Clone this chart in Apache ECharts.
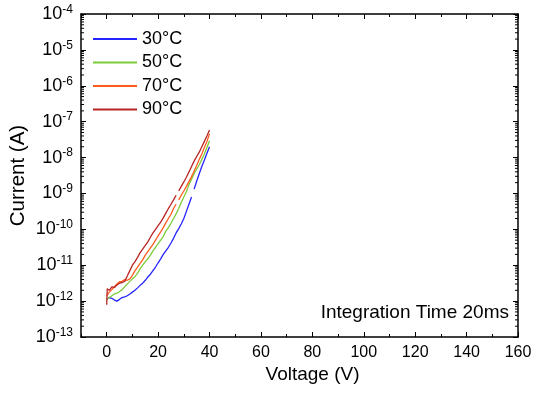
<!DOCTYPE html>
<html><head><meta charset="utf-8">
<script src="https://cdn.jsdelivr.net/npm/echarts@6/dist/echarts.min.js"></script>
<style>html,body{margin:0;padding:0;background:#fff}#c{width:539px;height:394px}</style>
</head><body><div id="c"></div>
<script>
var voltage30 = [0,1,2,3,4,5,6,7,8,9,10,11,12,13,14,15,16,17,18,19,20,21,22,23,24,25,26,27,28,29,30,31,32,33,33.5,34,35,36,37,38,39,40];
var current30 = [1.12e-12,1.26e-12,1.2e-12,1.07e-12,1.0e-12,1.12e-12,1.26e-12,1.32e-12,1.41e-12,1.58e-12,1.78e-12,2.0e-12,2.34e-12,2.75e-12,3.16e-12,3.8e-12,4.68e-12,5.62e-12,7.08e-12,8.91e-12,1.17e-11,1.51e-11,2.0e-11,2.51e-11,3.16e-11,4.17e-11,5.62e-11,7.94e-11,1.05e-10,1.41e-10,2.0e-10,3.16e-10,5.0e-10,7.94e-10,'-',1.32e-9,2.19e-9,3.55e-9,5.62e-9,8.5e-9,1.32e-8,2.0e-8];
var voltage50 = [0,1,2,3,4,5,6,7,8,9,10,11,12,13,14,15,16,17,18,19,20,21,22,23,24,25,26,27,28,29,30,31,32,33,34,35,36,37,38,39,40];
var current50 = [1.12e-12,1.26e-12,1.41e-12,1.58e-12,1.66e-12,1.86e-12,2.09e-12,2.51e-12,3.02e-12,3.55e-12,4.17e-12,4.79e-12,6.03e-12,7.94e-12,1.0e-11,1.26e-11,1.51e-11,1.91e-11,2.51e-11,3.16e-11,3.98e-11,5.01e-11,6.31e-11,8.91e-11,1.12e-10,1.48e-10,2.0e-10,2.69e-10,3.8e-10,5.62e-10,7.94e-10,1.12e-9,1.78e-9,2.51e-9,3.55e-9,4.79e-9,6.31e-9,8.91e-9,1.26e-8,1.91e-8,2.95e-8];
var voltage70 = [0,1,2,3,4,5,6,7,8,9,10,11,12,13,14,15,16,17,18,19,20,21,22,23,24,25,26,27,27.5,28,29,30,31,32,33,34,35,36,37,38,39,40];
var current70 = [1.41e-12,1.78e-12,2.09e-12,2.51e-12,3.02e-12,3.47e-12,3.55e-12,3.98e-12,3.8e-12,4.17e-12,5.25e-12,7.08e-12,8.91e-12,1.12e-11,1.41e-11,1.91e-11,2.4e-11,3.02e-11,3.8e-11,5.01e-11,6.61e-11,8.51e-11,1.12e-10,1.51e-10,2.0e-10,2.63e-10,3.8e-10,5.01e-10,'-',6.61e-10,8.91e-10,1.17e-9,1.58e-9,2.14e-9,2.95e-9,4.17e-9,6.03e-9,8.91e-9,1.26e-8,1.91e-8,2.82e-8,4.57e-8];
var voltage90 = [0,0.2,1,2,3,4,5,6,7,8,9,10,11,12,13,14,15,16,17,18,19,20,21,22,23,24,25,26,27,27.5,28,29,30,31,32,33,34,35,36,37,38,39,40];
var current90 = [7.9e-13,2.2e-12,2.0e-12,2.5e-12,2.4e-12,2.8e-12,3.16e-12,3.3e-12,3.55e-12,5.0e-12,7.08e-12,1.0e-11,1.26e-11,1.66e-11,2.24e-11,2.82e-11,3.55e-11,4.47e-11,6.03e-11,7.94e-11,1.0e-10,1.26e-10,1.58e-10,2.09e-10,2.82e-10,3.8e-10,5.01e-10,6.61e-10,8.91e-10,'-',1.17e-9,1.58e-9,2.09e-9,2.82e-9,3.98e-9,5.62e-9,7.94e-9,1.07e-8,1.41e-8,2.0e-8,2.82e-8,3.98e-8,5.89e-8];
var seriesNames = ['30°C','50°C','70°C','90°C'];
var seriesColors = ['#2424ff','#7ccc3a','#ff5a1e','#b82424'];
var xTickLabels = [0,20,40,60,80,100,120,140,160];
var yExponents = [-13,-12,-11,-10,-9,-8,-7,-6,-5,-4];
var yMinorMantissas = [2,3,4,5,6,7,8,9];

function pairs(xs, ys){ return xs.map(function(x,i){ return [x, ys[i]]; }); }
var yMinorValues = [];
yExponents.slice(0,-1).forEach(function(e){ yMinorMantissas.forEach(function(m){ yMinorValues.push([0, m*Math.pow(10,e)]); }); });

var chart = echarts.init(document.getElementById('c'), null, {renderer:'canvas'});
var font = 'Liberation Sans, Arial, sans-serif';
var black = '#000';
var option = {
  animation:false,
  textStyle:{fontFamily:font},
  grid:{left:81, top:14, right:21, bottom:57, containLabel:false, outerBoundsMode:'none'},
  legend:{
    orient:'vertical', left:93, top:30, padding:0, itemWidth:44, itemHeight:2, itemGap:5.5,
    icon:'rect', textStyle:{fontSize:18, color:black, fontFamily:font},
    data:seriesNames
  },
  xAxis:[
    {type:'value', min:-10, max:160, interval:10,
      name:'Voltage (V)', nameLocation:'middle', nameGap:28, nameMoveOverlap:false,
      nameTextStyle:{fontSize:19, color:black, fontFamily:font, padding:[0,0,0,26]},
      axisLine:{onZero:false, lineStyle:{color:black, width:1.5}},
      axisTick:{inside:true, length:5, customValues:xTickLabels, lineStyle:{color:black, width:1}},
      axisLabel:{fontSize:16, color:black, margin:8, fontFamily:font, customValues:xTickLabels},
      splitLine:{show:false}},
    {type:'value', min:-10, max:160, interval:10, position:'top',
      axisLine:{onZero:false, lineStyle:{color:black, width:1.5}},
      axisTick:{inside:true, length:5, customValues:xTickLabels, lineStyle:{color:black, width:1}},
      axisLabel:{show:false}, splitLine:{show:false}},
    {type:'value', min:-10, max:160, interval:10, position:'bottom',
      axisLine:{show:false, onZero:false},
      axisTick:{inside:true, length:3, lineStyle:{color:black, width:1}},
      axisLabel:{show:false}, splitLine:{show:false}},
    {type:'value', min:-10, max:160, interval:10, position:'top',
      axisLine:{show:false, onZero:false},
      axisTick:{inside:true, length:3, lineStyle:{color:black, width:1}},
      axisLabel:{show:false}, splitLine:{show:false}}
  ],
  yAxis:[
    {type:'log', logBase:10, min:1e-13, max:1e-4, interval:1,
      name:'Current (A)', nameLocation:'middle', nameGap:52, nameMoveOverlap:false,
      nameTextStyle:{fontSize:20.5, color:black, fontFamily:font},
      axisLine:{onZero:false, lineStyle:{color:black, width:1.5}},
      axisTick:{inside:true, length:5, lineStyle:{color:black, width:1}},
      minorTick:{show:false}, splitLine:{show:false},
      axisLabel:{color:black, margin:8, fontFamily:font,
        formatter:function(v){ var e = Math.round(Math.log10(v)); return '{b|10}{s|' + e + '}'; },
        rich:{b:{fontSize:18, fontFamily:font, color:black}, s:{fontSize:12, fontFamily:font, color:black, verticalAlign:'top', padding:[0,0,9,0]}}}},
    {type:'log', logBase:10, min:1e-13, max:1e-4, interval:1, position:'right',
      axisLine:{onZero:false, lineStyle:{color:black, width:1.5}},
      axisTick:{inside:true, length:5, lineStyle:{color:black, width:1}},
      minorTick:{show:false}, splitLine:{show:false}, axisLabel:{show:false}}
  ],
  graphic:[{type:'text', right:30, top:303, style:{text:'Integration Time 20ms', font:'19px ' + font, fill:black}}],
  series:[
    {name:seriesNames[0], type:'line', data:pairs(voltage30,current30)},
    {name:seriesNames[1], type:'line', data:pairs(voltage50,current50)},
    {name:seriesNames[2], type:'line', data:pairs(voltage70,current70)},
    {name:seriesNames[3], type:'line', data:pairs(voltage90,current90)}
  ].map(function(s,i){ s.showSymbol=false; s.symbol='none'; s.connectNulls=false; s.color=seriesColors[i]; s.lineStyle={width:1.3, color:seriesColors[i]}; s.z=2+i; return s; })
  .concat([{
    type:'custom', name:'yMinorTicks', silent:true, data:yMinorValues, clip:false,
    renderItem:function(params, api){
      var cs = params.coordSys;
      var y = api.coord([0, api.value(1)])[1];
      return {type:'group', children:[
        {type:'line', shape:{x1:cs.x, y1:y, x2:cs.x+3, y2:y}, style:{stroke:black, lineWidth:1}},
        {type:'line', shape:{x1:cs.x+cs.width-3, y1:y, x2:cs.x+cs.width, y2:y}, style:{stroke:black, lineWidth:1}}
      ]};
    }
  }])
};
chart.setOption(option);
</script></body></html>
